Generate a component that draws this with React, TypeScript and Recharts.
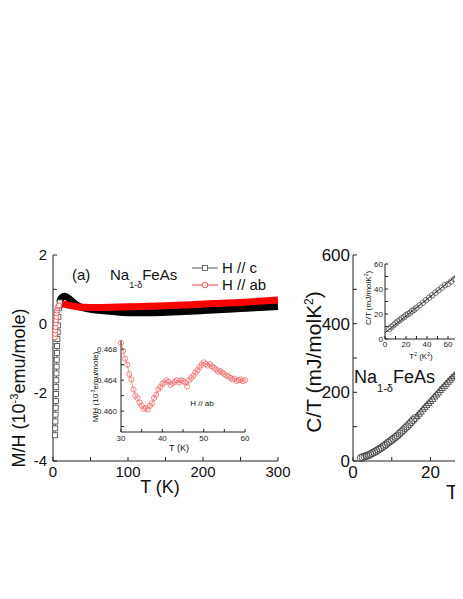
import { ComposedChart, Line, XAxis, YAxis } from "recharts";

const FONT = '"Liberation Sans", Arial, sans-serif';

// panel (a): M/H (10^-3 emu/mole) vs T (K)
const cDropT = [2.8, 3.0, 3.2, 3.4, 3.6, 3.8, 4.0, 4.2, 4.4, 4.6, 4.8, 5.0, 5.2, 5.5, 5.8, 6.2, 6.6, 7.2, 8.0, 9.0];
const cDropMH = [-3.25, -3.05, -2.85, -2.65, -2.45, -2.25, -2.05, -1.85, -1.65, -1.45, -1.25, -1.05, -0.85, -0.65, -0.45, -0.25, -0.05, 0.2, 0.45, 0.62];
const cBandT = [9, 10, 12, 15, 18, 22, 26, 30, 35, 41, 50, 60, 76, 100, 130, 160, 200, 250, 300];
const cBandMH = [0.62, 0.7, 0.77, 0.8, 0.78, 0.72, 0.64, 0.57, 0.5, 0.46, 0.42, 0.39, 0.36, 0.32, 0.32, 0.34, 0.38, 0.44, 0.5];
const abDropT = [2.5, 2.8, 3.1, 3.4, 3.7, 4.0, 4.4, 4.8, 5.3, 6.0, 7.0, 8.0];
const abDropMH = [-0.4, -0.3, -0.2, -0.1, 0.0, 0.1, 0.2, 0.3, 0.38, 0.45, 0.5, 0.53];
const abBandT = [8, 10, 14, 20, 30, 40, 60, 80, 100, 150, 200, 250, 300];
const abBandMH = [0.53, 0.55, 0.57, 0.54, 0.5, 0.48, 0.47, 0.48, 0.49, 0.52, 0.57, 0.62, 0.69];

// inset of (a): H // ab, 30-60 K
const insetT = [
  30, 30.5, 31, 31.5, 32, 32.5, 33, 33.5, 34, 34.5, 35, 35.5, 36, 36.5, 37, 37.5, 38, 38.5, 39, 39.5,
  40, 40.5, 41, 41.5, 42, 42.5, 43, 43.5, 44, 44.5, 45, 45.5, 46, 46.5, 47, 47.5, 48, 48.5, 49, 49.5,
  50, 50.5, 51, 51.5, 52, 52.5, 53, 53.5, 54, 54.5, 55, 55.5, 56, 56.5, 57, 57.5, 58, 58.5, 59, 59.5, 60,
];
const insetMH = [
  0.4688, 0.4678, 0.4668, 0.466, 0.4648, 0.4641, 0.4628, 0.462, 0.4617, 0.4611, 0.4607, 0.4603, 0.4604, 0.4602, 0.4607, 0.461, 0.4617, 0.4621, 0.4628, 0.4631,
  0.4635, 0.4637, 0.464, 0.4638, 0.4634, 0.4636, 0.4638, 0.464, 0.4637, 0.464, 0.4639, 0.4637, 0.4632, 0.464, 0.4643, 0.4646, 0.465, 0.4653, 0.4657, 0.466,
  0.4663, 0.4661, 0.4659, 0.4661, 0.4658, 0.4656, 0.4654, 0.4651, 0.4652, 0.465, 0.4648, 0.4646, 0.4645, 0.4643, 0.4641, 0.4642, 0.4639, 0.464, 0.4641, 0.4639, 0.464,
];

// right panel: C/T (mJ/molK^2) vs T (K)
const ctCircleT = [2, 2.5, 3, 3.5, 4, 4.5, 5, 5.5, 6, 6.5, 7, 7.5, 8, 8.5, 9, 9.5, 10, 10.5, 11, 11.5, 12, 12.5, 13, 13.5, 14, 14.5, 15, 15.5, 16];
const ctCircleC = [9, 11, 13, 15, 17, 20, 23, 26, 29, 33, 36, 40, 44, 48, 53, 57, 61, 65, 70, 74, 80, 85, 90, 96, 101, 107, 113, 119, 125];
const ctTriT = [16.5, 17, 17.5, 18, 18.5, 19, 19.5, 20, 20.5, 21, 21.5, 22, 22.5, 23, 23.5, 24, 24.5, 25, 25.5, 26, 26.5, 27, 27.5, 28, 28.5, 29, 29.5, 30];
const ctTriC = [131, 138, 144, 151, 157, 163, 169, 175, 181, 188, 194, 200, 207, 213, 219, 225, 231, 237, 243, 248, 253, 258, 263, 268, 274, 279, 284, 289];

// inset: C/T vs T^2 with linear fit
const t2 = [4, 6, 8, 10, 12, 14, 16, 18, 20, 22, 24, 26, 28, 30, 33, 36, 39, 42, 45, 48, 51, 54, 57, 60, 63, 66, 69, 72];
const t2C = [8, 9.5, 11, 12.5, 14, 15, 16.5, 17.5, 19, 20, 21, 22.5, 23.5, 25, 27, 29, 31, 33, 35, 37, 39, 41, 43, 44, 46, 48, 50, 52];
const fitT2 = [0, 80];
const fitC = [5, 58.6];

const zip = (xs: number[], ys: number[]) => xs.map((x, i) => ({ x, y: ys[i] }));

const squareDot = (p: any) => (
  <rect key={`sq${p.index}`} x={p.cx - 2.5} y={p.cy - 2.5} width={5} height={5} fill="#fff" stroke="#444" strokeWidth={0.8} />
);
const redDot = (p: any) => (
  <circle key={`rd${p.index}`} cx={p.cx} cy={p.cy} r={2.5} fill="#fff" stroke="#f04040" strokeWidth={0.8} />
);
const insetDot = (p: any) => (
  <circle key={`id${p.index}`} cx={p.cx} cy={p.cy} r={2.6} fill="none" stroke="#f06a6a" strokeWidth={0.8} />
);
const openCircle = (p: any) => (
  <circle key={`oc${p.index}`} cx={p.cx} cy={p.cy} r={3.6} fill="none" stroke="#333" strokeWidth={0.8} />
);
const smallCircle = (p: any) => (
  <circle key={`sc${p.index}`} cx={p.cx} cy={p.cy} r={2.8} fill="none" stroke="#444" strokeWidth={0.7} />
);
const triDot = (p: any) => (
  <polygon
    key={`tr${p.index}`}
    points={`${p.cx},${p.cy - 3.6} ${p.cx - 3.4},${p.cy + 2.6} ${p.cx + 3.4},${p.cy + 2.6}`}
    fill="none"
    stroke="#333"
    strokeWidth={0.8}
  />
);

// label only every `every` units, and nothing past `max` (those fall outside the page)
const label = (every: number, digits = 0, max = Infinity) => (v: number) =>
  v <= max && Math.abs(Math.round(v * 10000) % Math.round(every * 10000)) === 0 ? v.toFixed(digits) : "";

const axisLine = { stroke: "#222", strokeWidth: 1 };
const tickLine = { stroke: "#222", strokeWidth: 1 };

function MainPanel() {
  const tick = { fill: "#111", fontSize: 15, fontFamily: FONT };
  return (
    <ComposedChart width={300} height={500} margin={{ top: 247, right: 30, left: 0, bottom: 17 }}>
      <XAxis xAxisId="b" dataKey="x" type="number" domain={[0, 300]} ticks={[0, 50, 100, 150, 200, 250, 300]}
        tickFormatter={label(100)} tick={tick} tickSize={-4} tickMargin={9} height={30} axisLine={axisLine} tickLine={tickLine} />
      <XAxis xAxisId="t" orientation="top" type="number" domain={[0, 300]} height={0} tick={false} tickLine={false} axisLine={axisLine} />
      <YAxis yAxisId="l" type="number" domain={[-4, 2]} ticks={[-4, -3, -2, -1, 0, 1, 2]}
        tickFormatter={label(2)} tick={tick} tickSize={-4} tickMargin={10} width={45} axisLine={axisLine} tickLine={tickLine} />
      <YAxis yAxisId="r" orientation="right" type="number" domain={[-4, 2]} ticks={[-4, -3, -2, -1, 0, 1, 2]}
        tickFormatter={() => ""} tickSize={-4} width={0} axisLine={axisLine} tickLine={tickLine} />
      <Line xAxisId="b" yAxisId="l" data={zip(cDropT, cDropMH)} dataKey="y" stroke="#555" strokeWidth={0.8}
        dot={squareDot} isAnimationActive={false} />
      <Line xAxisId="b" yAxisId="l" data={zip(cBandT, cBandMH)} dataKey="y" type="monotone" stroke="#000"
        strokeWidth={7} dot={false} isAnimationActive={false} />
      <Line xAxisId="b" yAxisId="l" data={zip(abDropT, abDropMH)} dataKey="y" stroke="#f04040" strokeWidth={0.8}
        dot={redDot} isAnimationActive={false} />
      <Line xAxisId="b" yAxisId="l" data={zip(abBandT, abBandMH)} dataKey="y" type="monotone" stroke="#ff0000"
        strokeWidth={7} dot={false} isAnimationActive={false} />
    </ComposedChart>
  );
}

function MainInset() {
  const tick = { fill: "#222", fontSize: 8, fontFamily: FONT };
  const yTicks = [0.458, 0.46, 0.462, 0.464, 0.466, 0.468];
  return (
    <ComposedChart width={180} height={127} margin={{ top: 10, right: 16, left: 0, bottom: 0 }}>
      <XAxis xAxisId="b" dataKey="x" type="number" domain={[30, 60]} ticks={[30, 35, 40, 45, 50, 55, 60]}
        tickFormatter={label(10)} tick={tick} tickSize={-3} tickMargin={6} height={25} axisLine={axisLine} tickLine={tickLine} />
      <XAxis xAxisId="t" orientation="top" type="number" domain={[30, 60]} height={0} tick={false} tickLine={false} axisLine={axisLine} />
      <YAxis yAxisId="l" type="number" domain={[0.4573, 0.4692]} ticks={yTicks}
        tickFormatter={label(0.004, 3)} tick={tick} tickSize={-3} tickMargin={7} width={40} axisLine={axisLine} tickLine={tickLine} />
      <YAxis yAxisId="r" orientation="right" type="number" domain={[0.4573, 0.4692]} ticks={yTicks}
        tickFormatter={() => ""} tickSize={-3} width={0} axisLine={axisLine} tickLine={tickLine} />
      <Line xAxisId="b" yAxisId="l" data={zip(insetT, insetMH)} dataKey="y" stroke="#f06a6a" strokeWidth={0.7}
        dot={insetDot} isAnimationActive={false} />
    </ComposedChart>
  );
}

function HeatPanel() {
  const tick = { fill: "#111", fontSize: 17, fontFamily: FONT };
  const yTicks = [0, 100, 200, 300, 400, 500, 600];
  return (
    <ComposedChart width={215} height={500} margin={{ top: 247, right: 15, left: 0, bottom: 17 }}>
      <XAxis xAxisId="b" dataKey="x" type="number" domain={[0, 40]} ticks={[0, 10, 20, 30, 40]}
        tickFormatter={label(20, 0, 20)} tick={tick} tickSize={-4} tickMargin={9} height={30} axisLine={axisLine} tickLine={tickLine} />
      <XAxis xAxisId="t" orientation="top" type="number" domain={[0, 40]} height={0} tick={false} tickLine={false} axisLine={axisLine} />
      <YAxis yAxisId="l" type="number" domain={[0, 600]} ticks={yTicks}
        tickFormatter={label(200)} tick={tick} tickSize={-4} tickMargin={7} width={45} axisLine={axisLine} tickLine={tickLine} />
      <Line xAxisId="b" yAxisId="l" data={zip(ctCircleT, ctCircleC)} dataKey="y" stroke="none"
        dot={openCircle} isAnimationActive={false} />
      <Line xAxisId="b" yAxisId="l" data={zip(ctTriT, ctTriC)} dataKey="y" stroke="none"
        dot={triDot} isAnimationActive={false} />
    </ComposedChart>
  );
}

function HeatInset() {
  const tick = { fill: "#222", fontSize: 8, fontFamily: FONT };
  const yTicks = [0, 10, 20, 30, 40, 50, 60];
  return (
    <ComposedChart width={120} height={101} margin={{ top: 6, right: 9, left: 0, bottom: 0 }}>
      <XAxis xAxisId="b" dataKey="x" type="number" domain={[0, 80]} ticks={[0, 10, 20, 30, 40, 50, 60, 70, 80]}
        tickFormatter={label(20, 0, 60)} tick={tick} tickSize={-3} tickMargin={5} height={20} axisLine={axisLine} tickLine={tickLine} />
      <XAxis xAxisId="t" orientation="top" type="number" domain={[0, 80]} height={0} tick={false} tickLine={false} axisLine={axisLine} />
      <YAxis yAxisId="l" type="number" domain={[0, 60]} ticks={yTicks}
        tickFormatter={label(20)} tick={tick} tickSize={-3} tickMargin={5} width={27} axisLine={axisLine} tickLine={tickLine} />
      <Line xAxisId="b" yAxisId="l" data={zip(t2, t2C)} dataKey="y" stroke="none"
        dot={smallCircle} isAnimationActive={false} />
      <Line xAxisId="b" yAxisId="l" data={zip(fitT2, fitC)} dataKey="y" stroke="#111" strokeWidth={1}
        dot={false} isAnimationActive={false} />
    </ComposedChart>
  );
}

function Annotations() {
  return (
    <svg width={455} height={580} style={{ position: "absolute", left: 0, top: 0, pointerEvents: "none" }} fontFamily={FONT} fill="#111">
      {/* panel (a) */}
      <text transform="translate(17,380) rotate(-90)" textAnchor="middle" fontSize={18}>
        M/H (10<tspan dy={-7} fontSize={11}>-3</tspan><tspan dy={7}>emu/mole)</tspan>
      </text>
      <text x={152} y={485} textAnchor="middle" fontSize={18}>T (K)</text>
      <text x={64} y={272} fontSize={15}>(a)</text>
      <text x={102} y={272} fontSize={15}>
        Na<tspan dy={8} fontSize={9}>1-δ</tspan><tspan dy={-8}>FeAs</tspan>
      </text>
      <line x1={184} x2={210} y1={260} y2={260} stroke="#555" strokeWidth={1} />
      <rect x={194.5} y={257.5} width={5} height={5} fill="#fff" stroke="#444" strokeWidth={0.8} />
      <text x={214} y={265} fontSize={15}>H // c</text>
      <line x1={184} x2={210} y1={277} y2={277} stroke="#f04040" strokeWidth={1} />
      <circle cx={197} cy={277} r={2.8} fill="#fff" stroke="#f04040" strokeWidth={0.9} />
      <text x={214} y={282} fontSize={15}>H // ab</text>
      {/* inset of (a) */}
      <text transform="translate(90,379) rotate(-90)" textAnchor="middle" fontSize={8}>
        M/H (10<tspan dy={-3} fontSize={5}>-3</tspan><tspan dy={3}>emu/mole)</tspan>
      </text>
      <text x={171} y={443} textAnchor="middle" fontSize={9}>T (K)</text>
      <text x={194} y={398} textAnchor="middle" fontSize={8}>H // ab</text>
      {/* heat capacity panel */}
      <text transform="translate(313,354) rotate(-90)" textAnchor="middle" fontSize={21}>
        C/T (mJ/molK<tspan dy={-8} fontSize={12}>2</tspan><tspan dy={8}>)</tspan>
      </text>
      <text x={444} y={491} textAnchor="middle" fontSize={20}>T</text>
      <text x={346} y={375} fontSize={18}>
        Na<tspan dy={9} fontSize={11}>1-δ</tspan><tspan dy={-9}>FeAs</tspan>
      </text>
      <text transform="translate(363,290) rotate(-90)" textAnchor="middle" fontSize={8}>
        C/T (mJ/molK<tspan dy={-3} fontSize={5}>2</tspan><tspan dy={3}>)</tspan>
      </text>
      <text x={413} y={351} textAnchor="middle" fontSize={8}>
        T<tspan dy={-3} fontSize={5}>2</tspan><tspan dy={3}> (K</tspan><tspan dy={-3} fontSize={5}>2</tspan><tspan dy={3}>)</tspan>
      </text>
    </svg>
  );
}

export default function App() {
  return (
    <div style={{ position: "relative", width: 455, height: 580, overflow: "hidden", background: "#fff", fontFamily: FONT }}>
      <div style={{ position: "absolute", left: 0, top: 0 }}>
        <MainPanel />
      </div>
      <div style={{ position: "absolute", left: 300, top: 0 }}>
        <HeatPanel />
      </div>
      <div style={{ position: "absolute", left: 73, top: 322 }}>
        <MainInset />
      </div>
      <div style={{ position: "absolute", left: 350, top: 250 }}>
        <HeatInset />
      </div>
      <Annotations />
    </div>
  );
}
